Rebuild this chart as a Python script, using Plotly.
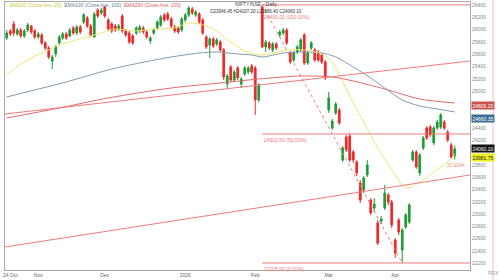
import plotly.graph_objects as go

# ---------------- data (daily candles) ----------------
opens = [25863, 25977, 26091, 25928, 25993, 25896, 25993, 26058, 25977, 25879,
         25912, 25782, 25700, 25489, 25603, 25782, 25863, 25928, 25896, 26026,
         25944, 26042, 26123, 26188, 26058, 25879, 26318, 26270, 26367, 26156,
         26091, 26058, 26009, 26221, 25977, 25944, 25896, 25944, 25977, 26026,
         25961, 25814, 25944, 26026, 26075, 26237, 26253, 26172, 26042, 26026,
         25993, 26156, 26237, 26335, 26237, 26253, 26156, 25879, 25749, 25847,
         25766, 25798, 25668, 25115, 25392, 25180, 25375, 25115, 25278, 25310,
         25408, 25375, 24855, 26367, 25717, 25782, 25668, 25766, 25912, 25944,
         25993, 25619, 25505, 25635, 25668, 25912, 25457, 25700, 25668, 25635,
         25587, 25473, 24692, 24400, 24644, 24692, 23879, 24253, 24270, 24010,
         23847, 23505, 23392, 23636, 23229, 23099, 22855, 22888, 23099, 23310,
         23196, 22579, 22904, 22416, 22790, 22871, 23879, 24010, 23668, 24075,
         24400, 24416, 24156, 24400, 24416, 24497, 24335, 24123, 23946.45]
highs = [25993, 26009, 26140, 26026, 26026, 26009, 26107, 26075, 26009, 25961,
         25944, 25814, 25733, 25587, 25749, 25912, 25961, 25961, 26026, 26058,
         26075, 26075, 26270, 26221, 26091, 26286, 26351, 26351, 26383, 26188,
         26123, 26091, 26091, 26253, 26009, 25977, 25928, 26058, 26075, 26058,
         25993, 25896, 26026, 26156, 26237, 26270, 26286, 26205, 26075, 26058,
         26205, 26270, 26383, 26367, 26318, 26286, 26188, 25912, 25879, 25879,
         25863, 25831, 25700, 25278, 25424, 25343, 25408, 25229, 25408, 25408,
         25440, 25408, 25131, 26400, 25831, 25814, 25798, 25798, 25993, 26026,
         26026, 25652, 25652, 25749, 25863, 25944, 25652, 25814, 25700, 25668,
         25619, 25505, 24985, 24546, 24822, 24725, 24107, 24286, 24318, 24042,
         23879, 23554, 23619, 23879, 23262, 23262, 22904, 22969, 23473, 23343,
         23229, 22611, 22936, 22774, 23018, 23180, 24042, 24042, 23993, 24270,
         24432, 24448, 24432, 24530, 24644, 24530, 24367, 24156, 24107.20]
lows = [25831, 25896, 25896, 25896, 25863, 25863, 25961, 25928, 25847, 25847,
        25749, 25668, 25522, 25359, 25554, 25749, 25831, 25831, 25879, 25912,
        25912, 25928, 26091, 26026, 25879, 25863, 26188, 26237, 26188, 25977,
        25944, 25961, 25977, 25944, 25879, 25766, 25749, 25912, 25944, 25928,
        25847, 25766, 25912, 25993, 26042, 26123, 26140, 26026, 25944, 25928,
        25961, 26123, 26205, 26237, 26205, 26091, 25912, 25684, 25538, 25700,
        25733, 25635, 25180, 25050, 25148, 25148, 25180, 25050, 25245, 25278,
        25278, 24611, 24822, 25700, 25635, 25668, 25635, 25668, 25879, 25912,
        25749, 25440, 25473, 25603, 25635, 25424, 25424, 25668, 25473, 25473,
        25440, 25180, 24644, 24367, 24611, 24448, 23847, 24010, 23847, 23831,
        23619, 23180, 23343, 23603, 22985, 23034, 22497, 22839, 23066, 23148,
        22774, 22286, 22660, 22205, 22757, 22839, 23847, 23733, 23619, 24042,
        24205, 24253, 24123, 24367, 24383, 24367, 24172, 23896, 23886.40]
closes = [25944, 25928, 25944, 25993, 25896, 25977, 26075, 25961, 25879, 25928,
          25782, 25700, 25554, 25554, 25717, 25879, 25928, 25863, 25993, 25944,
          26042, 25961, 26237, 26058, 25912, 26253, 26221, 26318, 26221, 26009,
          25977, 25993, 26058, 25977, 25912, 25798, 25782, 26026, 26042, 25961,
          25879, 25863, 25993, 26123, 26205, 26156, 26172, 26058, 25977, 25961,
          26172, 26237, 26351, 26270, 26286, 26123, 25944, 25717, 25847, 25733,
          25831, 25668, 25229, 25245, 25180, 25310, 25213, 25196, 25375, 25375,
          25310, 24855, 25099, 25717, 25798, 25700, 25766, 25700, 25961, 25993,
          25782, 25473, 25619, 25717, 25831, 25457, 25619, 25782, 25505, 25505,
          25473, 25213, 24888, 24514, 24790, 24481, 24075, 24042, 23879, 23879,
          23668, 23229, 23587, 23798, 23018, 23164, 22530, 22920, 23343, 23196,
          22823, 22367, 22709, 22741, 22985, 23148, 24010, 23766, 23961, 24237,
          24237, 24286, 24400, 24497, 24611, 24400, 24205, 23928, 24060.10]
idx = list(range(len(closes)))

# moving averages, read at a few candles
ema20_idx = [0, 4, 8, 12, 15, 22, 27, 31, 36, 43, 48, 52, 57, 60, 63, 68, 72, 75,
             80, 85, 90, 93, 96, 99, 102, 105, 108, 110, 113, 115, 118, 121, 124, 127, 128]
ema20_val = [25261, 25440, 25570, 25668, 25749, 25863, 25944, 26009, 25977, 26009,
             26026, 26107, 26058, 25977, 25831, 25652, 25587, 25603, 25668, 25668,
             25603, 25473, 25148, 24806, 24497, 24172, 23896, 23717, 23473, 23424,
             23522, 23636, 23766, 23896, 23981.75]
ema100_idx = [0, 8, 17, 29, 38, 47, 55, 60, 66, 70, 73, 79, 85, 90, 94, 99, 104, 108,
              113, 118, 123, 128]
ema100_val = [24904, 25018, 25148, 25343, 25457, 25554, 25619, 25635, 25603, 25587,
              25554, 25619, 25635, 25619, 25554, 25392, 25213, 25050, 24855, 24757,
              24709, 24660.35]
ema200_idx = [0, 15, 29, 47, 61, 72, 84, 93, 99, 108, 118, 128]
ema200_val = [24562, 24725, 24888, 25050, 25131, 25196, 25245, 25229, 25164, 25034,
              24871, 24806.20]

# drawn trend lines (start/end candle, start/end price)
trend_up_x = [-0.5, 132.4]
trend_up_y = [24627, 25489]
trend_low_x = [-0.5, 132.4]
trend_low_y = [22465, 23636]

# fibonacci anchors
fib_hi_i, fib_lo_i = 73, 113

# axis labels (those hidden behind the price boxes are left out)
ytick_vals = [22200, 22400, 22600, 22800, 23000, 23200, 23400, 23600, 23800,
              24200, 24400, 25000, 25200, 25400, 25600, 25800, 26000, 26200, 26400]
xtick_vals = [1, 9, 28, 51, 71, 92, 111]
xtick_text = ["24 Oct", "Nov", "Dec", "2026", "Feb", "Mar", "Apr"]

# ---------------- styling ----------------
GREEN = "#1f9a38"
RED = "#ea2a2a"
YEL = "#ece66e"
BLUE = "#7f9bb3"
EMARED = "#e26a6a"
FIB = "#f07a7a"
FONT = "Liberation Sans"

W, H = 500, 280
ML, MR, MT, MB = 5, 30, 2, 10
PW, PH = W - ML - MR, H - MT - MB
XR = [-0.5, 132.36]
YR = [22091, 26448]


def pxx(x):
    return (x - ML) / PW


def pyy(y):
    return 1 - (y - MT) / PH


fig = go.Figure()

fig.add_trace(go.Candlestick(
    x=idx, open=opens, high=highs, low=lows, close=closes,
    increasing=dict(line=dict(color=GREEN, width=1), fillcolor=GREEN),
    decreasing=dict(line=dict(color=RED, width=1), fillcolor=RED),
    whiskerwidth=0, showlegend=False, hoverinfo="skip"))

for xs, ys, col in [(ema200_idx, ema200_val, EMARED), (ema100_idx, ema100_val, BLUE),
                    (ema20_idx, ema20_val, YEL)]:
    fig.add_trace(go.Scatter(x=xs, y=ys, mode="lines", showlegend=False, hoverinfo="skip",
                             line=dict(color=col, width=1, shape="spline", smoothing=0.8)))

for xs, ys in [(trend_up_x, trend_up_y), (trend_low_x, trend_low_y)]:
    fig.add_trace(go.Scatter(x=xs, y=ys, mode="lines", showlegend=False, hoverinfo="skip",
                             line=dict(color=FIB, width=1)))

hi = highs[fib_hi_i]
lo = lows[fib_lo_i]
mid = (hi + lo) / 2
fig.add_trace(go.Scatter(x=[fib_hi_i, fib_lo_i], y=[hi, lo], mode="lines", showlegend=False,
                         hoverinfo="skip", line=dict(color=FIB, width=1, dash="dot")))

ann = []
for lvl, pct, ysh in [(hi, "100.00%", -7), (mid, "50.00%", -1), (lo, "0.00%", -1)]:
    fig.add_trace(go.Scatter(x=[fib_hi_i, XR[1]], y=[lvl, lvl], mode="lines", showlegend=False,
                             hoverinfo="skip", line=dict(color=FIB, width=1)))
    ann.append(dict(x=fib_hi_i, y=lvl, xref="x", yref="y", text=f"{lvl:.2f} ({pct})",
                    showarrow=False, xanchor="left", yanchor="top", yshift=ysh,
                    font=dict(family=FONT, size=5, color=FIB)))

# study legend at top-left
legend_txt = ("<span style='color:#cfc730'>EMA20 (Close,line, 20)</span>  "
              "<span style='color:#5f7f99'>EMA100 (Close,line, 100)</span>  "
              "<span style='color:#dd5a5a'>EMA200 (Close,line, 200)</span>")
ann.append(dict(x=pxx(8), y=pyy(5), xref="paper", yref="paper", text=legend_txt,
                showarrow=False, xanchor="left", yanchor="middle",
                font=dict(family=FONT, size=5, color="#5f7f99")))
ann.append(dict(x=pxx(233), y=pyy(4), xref="paper", yref="paper", text="NIFTY/NSE - Daily",
                showarrow=False, xanchor="left", yanchor="middle",
                font=dict(family=FONT, size=5, color="#444")))
ann.append(dict(x=pxx(208), y=pyy(11), xref="paper", yref="paper",
                text=f"O{opens[-1]:.2f} H{highs[-1]:.2f} L{lows[-1]:.2f} C{closes[-1]:.2f}",
                showarrow=False, xanchor="left", yanchor="middle",
                font=dict(family=FONT, size=4.5, color="#333")))
ann.append(dict(x=125.2, y=23798, xref="x", yref="y", text="20 EMA", showarrow=False,
                xanchor="left", yanchor="middle", font=dict(family=FONT, size=5, color="#f08a7a")))

# price boxes on the axis
for val, bg, fg, shift in [(ema200_val[-1], "#c9504c", "white", -3),
                           (ema100_val[-1], "#3b6e92", "white", -7),
                           (closes[-1], "#111111", "white", 0),
                           (ema20_val[-1], "#f2f020", "#222", -4)]:
    ann.append(dict(x=pxx(471), y=val, xref="paper", yref="y", text=f"{val:.2f}",
                    showarrow=False, xanchor="left", yanchor="middle", yshift=shift,
                    bgcolor=bg, borderpad=0.5, font=dict(family=FONT, size=5, color=fg)))
ann.append(dict(x=pxx(486), y=pyy(273), xref="paper", yref="paper", text="PDX",
                showarrow=False, xanchor="left", yanchor="middle",
                font=dict(family=FONT, size=5, color="#999")))

fig.update_layout(
    width=W, height=H, margin=dict(l=ML, r=MR, t=MT, b=MB),
    paper_bgcolor="white", plot_bgcolor="white", annotations=ann,
    shapes=[dict(type="line", xref="paper", yref="paper", x0=pxx(493), x1=pxx(493),
                 y0=pyy(0), y1=pyy(280), line=dict(color="#f4c0c0", width=1))],
    xaxis=dict(range=XR, rangeslider=dict(visible=False), showgrid=False, zeroline=False,
               tickvals=xtick_vals, ticktext=xtick_text, ticks="", showline=True, mirror=True,
               linecolor="#a8a8a8", linewidth=1, tickfont=dict(family=FONT, size=5, color="#666")),
    yaxis=dict(range=YR, side="right", showgrid=False, zeroline=False, tickvals=ytick_vals,
               tickformat="d", ticks="", showline=True, mirror=True, linecolor="#a8a8a8",
               linewidth=1, tickfont=dict(family=FONT, size=5, color="#888")),
)

fig.write_html("out.html")
